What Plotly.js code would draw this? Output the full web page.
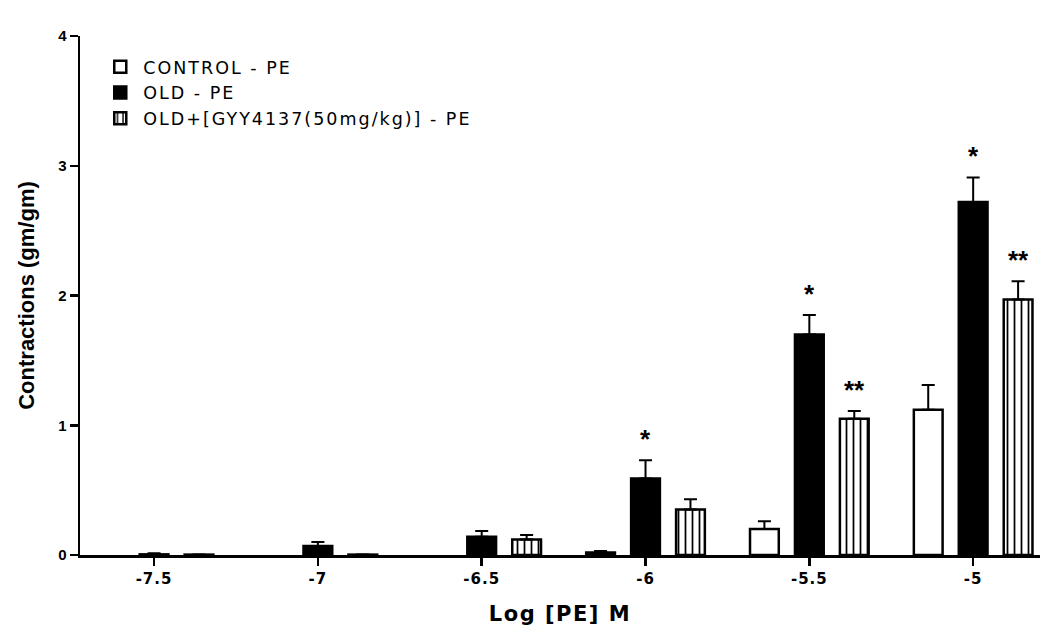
<!DOCTYPE html>
<html>
<head>
<meta charset="utf-8">
<script src="https://cdn.plot.ly/plotly-3.0.1.min.js"></script>
<style>
html,body{margin:0;padding:0;background:#fff;}
#chart{width:1046px;height:626px;}
.legendtext{letter-spacing:2px;}
.xtick text{letter-spacing:1px;}
.g-xtitle text{letter-spacing:1.5px;}
</style>
</head>
<body>
<div id="chart"></div>
<script>
var doses = [-7.5, -7, -6.5, -6, -5.5, -5];
var tickLabels = ["-7.5", "-7", "-6.5", "-6", "-5.5", "-5"];
var seriesNames = ["CONTROL - PE", "OLD - PE", "OLD+[GYY4137(50mg/kg)] - PE"];
var controlMean = [null, null, null, 0.02, 0.20, 1.12];
var controlErr  = [0, 0, 0, 0.01, 0.06, 0.19];
var oldMean     = [0.005, 0.07, 0.14, 0.59, 1.70, 2.72];
var oldErr      = [0.008, 0.03, 0.045, 0.14, 0.15, 0.19];
var gyyMean     = [0.003, 0.003, 0.12, 0.35, 1.05, 1.97];
var gyyErr      = [0, 0, 0.035, 0.08, 0.06, 0.14];
// significance marks: dose, series index, text
var sigDose   = [-6, -5.5, -5, -5.5, -5];
var sigSeries = [1, 1, 1, 2, 2];
var sigText   = ["*", "*", "*", "**", "**"];

var font = "Liberation Sans, Arial, sans-serif";
var wide = "DejaVu Sans, sans-serif";
function mk(name, y, err, fill, pattern) {
  var m = {color: fill, line: {color: "#000", width: 2.5}};
  if (pattern) m.pattern = pattern;
  return {
    type: "bar", name: name, x: doses, y: y,
    marker: m,
    error_y: {type: "data", array: err, arrayminus: err.map(function(){return 0;}), symmetric: false,
              color: "#000", thickness: 2, width: 6.5},
    hoverinfo: "none"
  };
}
var traces = [
  mk(seriesNames[0], controlMean, controlErr, "#fff"),
  mk(seriesNames[1], oldMean, oldErr, "#000"),
  mk(seriesNames[2], gyyMean, gyyErr, "#fff", {shape: "|", fgcolor: "#000", bgcolor: "#fff", size: 7, solidity: 0.25})
];
var means = [controlMean, oldMean, gyyMean];
var errs = [controlErr, oldErr, gyyErr];
var slotPx = 45;
var annotations = sigDose.map(function(d, i) {
  var s = sigSeries[i];
  var k = doses.indexOf(d);
  return {
    x: d, y: means[s][k] + errs[s][k], xref: "x", yref: "y",
    text: "<b>" + sigText[i] + "</b>", showarrow: false, yanchor: "bottom",
    xshift: (s - 1) * slotPx, yshift: 4,
    font: {family: font, size: 26, color: "#000"}
  };
});

var layout = {
  width: 1046, height: 626,
  margin: {l: 80, r: 6, t: 36, b: 71},
  paper_bgcolor: "#fff", plot_bgcolor: "#fff",
  barmode: "group", bargap: 0.177, bargroupgap: 0.36,
  showlegend: true,
  legend: {x: 0.018, y: 0.975, xanchor: "left", yanchor: "top", bgcolor: "rgba(0,0,0,0)",
           font: {family: wide, size: 17.5, color: "#000"}, tracegroupgap: 0, itemwidth: 36},
  xaxis: {
    range: [-7.726, -4.796], tickmode: "array", tickvals: doses,
    ticktext: tickLabels.map(function(t){return "<b>" + t + "</b>";}),
    showline: true, linecolor: "#000", linewidth: 2.5, ticks: "outside", ticklen: 8, tickwidth: 2.5, tickcolor: "#000",
    showgrid: false, zeroline: false,
    tickfont: {family: wide, size: 15, color: "#000"},
    title: {text: "<b>Log [PE] M</b>", font: {family: wide, size: 21, color: "#000"}, standoff: 36}
  },
  yaxis: {
    range: [0, 4], tickvals: [0, 1, 2, 3, 4], ticktext: ["<b>0</b>", "<b>1</b>", "<b>2</b>", "<b>3</b>", "<b>4</b>"],
    showline: true, linecolor: "#000", linewidth: 2.5, ticks: "outside", ticklen: 8, tickwidth: 2.5, tickcolor: "#000",
    showgrid: false, zeroline: false,
    tickfont: {family: font, size: 15, color: "#000"},
    title: {text: "<b>Contractions (gm/gm)</b>", font: {family: font, size: 22, color: "#000"}, standoff: 18}
  },
  annotations: annotations
};
Plotly.newPlot("chart", traces, layout, {displayModeBar: false, staticPlot: true});
</script>
</body>
</html>
